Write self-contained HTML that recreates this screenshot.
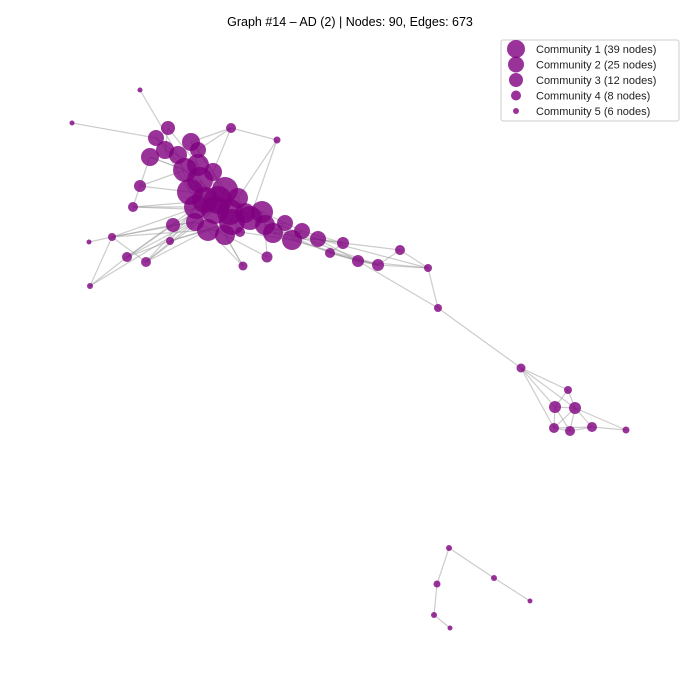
<!DOCTYPE html>
<html><head><meta charset="utf-8"><style>
body{margin:0;background:#fff;}
svg{display:block;font-family:"Liberation Sans","DejaVu Sans",sans-serif;}
</style></head><body>
<svg id="chart" width="700" height="700" viewBox="0 0 700 700">
<rect width="700" height="700" fill="#fff"/>
<text x="350" y="26" text-anchor="middle" font-size="12.5" fill="#000">Graph #14 – AD (2) | Nodes: 90, Edges: 673</text>
<g id="edges"></g>
<g id="nodes"></g>
<g>
<rect x="501" y="40" width="178" height="81" fill="#fff" stroke="#ccc" rx="2"/>
<g id="legend"></g>
</g>
</svg>
<script>
const nodeX=[140,72,231,277,168,156,150,191,198,165,178,185,198,213,140,190,225,238,205,196,215,230,245,262,265,285,273,302,292,318,343,330,358,378,400,428,438,173,133,112,89,127,146,170,195,208,225,240,243,267,90,250,521,568,555,575,554,570,592,626,449,494,437,530,434,450,218,200,232];
const nodeY=[90,123,128,140,128,138,157,142,150,150,155,170,165,172,186,192,190,198,200,207,210,212,213,212,225,223,233,231,240,239,243,253,261,265,250,268,308,225,207,237,242,257,262,241,222,230,235,232,266,257,286,218,368,390,407,408,428,431,427,430,548,578,584,601,615,628,200,180,222];
const nodeR=[2.5,2.5,5,3.5,7,8,9,9,8,9,9,12,11,9,6,13,13,10,13,12,14,13,10,11,10,8,10,8,10,8,6,5,6,6,5,4,4,7,5,4,2.5,5,5,4,9,11,10,5,4.5,5.5,3,12,4.5,4,6,6,5,5,5,3.5,3,3,3.5,2.5,3,2.5,14,13,13];
const edgeFrom=[0,1,2,2,2,2,3,4,5,6,7,8,9,10,11,12,13,14,14,15,16,17,18,19,20,21,22,23,24,25,26,27,28,29,30,31,32,33,34,32,33,35,36,37,38,38,39,39,40,41,41,42,42,43,44,45,46,47,48,49,50,50,28,29,31,26,24,6,14,15,18,20,21,23,66,67,68,66,11,12,16,37,43,45,22,27,30,52,52,52,52,53,53,54,54,54,55,55,55,56,56,57,58,55,60,60,62,61,64,39,41,13,3,41,42,39,50,48,49,43,47,31,32,29,27,35,36,38,14,42,39,5,9,4,7];
const edgeTo=[10,5,7,8,13,3,17,9,10,11,12,16,12,15,18,19,20,15,38,20,21,22,19,20,21,22,23,24,25,26,27,28,29,30,31,32,33,34,35,35,35,36,52,44,20,66,44,42,39,43,37,44,20,45,46,47,48,21,46,46,41,39,33,32,33,30,33,11,6,66,67,68,51,51,67,68,51,23,66,67,66,66,68,68,51,30,34,53,54,55,56,55,54,55,56,57,56,57,58,57,58,58,59,59,62,61,64,63,65,45,19,21,51,20,19,37,44,45,24,19,28,24,26,22,23,29,32,19,11,45,66,11,15,12,13];
const legendLabels=["Community 1 (39 nodes)","Community 2 (25 nodes)","Community 3 (12 nodes)","Community 4 (8 nodes)","Community 5 (6 nodes)"];
const legendSizes=[9,8,7,5,3];

const NS="http://www.w3.org/2000/svg";
const eg=document.getElementById('edges');
for(let i=0;i<edgeFrom.length;i++){
  const a=edgeFrom[i],b=edgeTo[i];
  const l=document.createElementNS(NS,'line');
  l.setAttribute('x1',nodeX[a]);l.setAttribute('y1',nodeY[a]);
  l.setAttribute('x2',nodeX[b]);l.setAttribute('y2',nodeY[b]);
  l.setAttribute('stroke','#999');l.setAttribute('stroke-opacity','0.5');l.setAttribute('stroke-width','1.2');
  
  
  eg.appendChild(l);
}
const ng=document.getElementById('nodes');
for(let i=0;i<nodeX.length;i++){
  const c=document.createElementNS(NS,'circle');
  c.setAttribute('cx',nodeX[i]);c.setAttribute('cy',nodeY[i]);c.setAttribute('r',nodeR[i]);
  c.setAttribute('fill','#800080');c.setAttribute('fill-opacity','0.8');
  
  
  ng.appendChild(c);
}
const lg=document.getElementById('legend');
for(let i=0;i<legendLabels.length;i++){
  const y=49+i*15.5;
  const c=document.createElementNS(NS,'circle');
  c.setAttribute('cx',516);c.setAttribute('cy',y);c.setAttribute('r',legendSizes[i]);
  c.setAttribute('fill','#800080');c.setAttribute('fill-opacity','0.8');
  
  
  lg.appendChild(c);
  const t=document.createElementNS(NS,'text');
  t.setAttribute('x',536);t.setAttribute('y',y+4);t.setAttribute('font-size','11');t.setAttribute('fill','#222');
  t.textContent=legendLabels[i];
  
  
  lg.appendChild(t);
}
</script>
</body></html>
